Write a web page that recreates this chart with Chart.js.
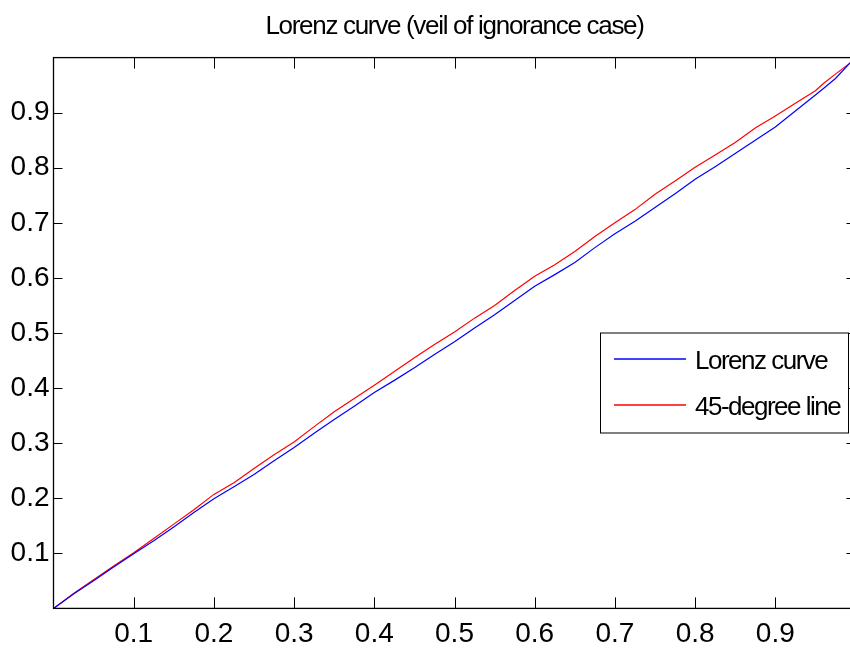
<!DOCTYPE html>
<html><head><meta charset="utf-8">
<script src="https://cdn.jsdelivr.net/npm/chart.js@4/dist/chart.umd.min.js"></script>
<style>
html,body{margin:0;padding:0;background:#fff;overflow:hidden}
#wrap{width:850px;height:654px;overflow:hidden;position:relative;background:#fff}
canvas{display:block}
</style>
</head><body>
<div id="wrap"><canvas id="c" width="860" height="654"></canvas></div>
<script>
const chartTitle = 'Lorenz curve (veil of ignorance case)';
const seriesLabels = ['Lorenz curve', '45-degree line'];
const populationShare = [0, 0.025, 0.05, 0.075, 0.1, 0.125, 0.15, 0.175, 0.2, 0.225, 0.25, 0.275, 0.3, 0.325, 0.35, 0.375, 0.4, 0.425, 0.45, 0.475, 0.5, 0.525, 0.55, 0.575, 0.6, 0.625, 0.65, 0.675, 0.7, 0.725, 0.75, 0.775, 0.8, 0.825, 0.85, 0.875, 0.9, 0.925, 0.95, 0.96, 0.975, 0.993, 1];
const lorenzValues = [0, 0.026, 0.05, 0.075, 0.099, 0.123, 0.148, 0.174, 0.199, 0.221, 0.243, 0.268, 0.292, 0.318, 0.343, 0.367, 0.392, 0.414, 0.437, 0.461, 0.484, 0.509, 0.533, 0.559, 0.585, 0.606, 0.628, 0.655, 0.68, 0.703, 0.728, 0.753, 0.779, 0.802, 0.826, 0.85, 0.874, 0.903, 0.932, 0.944, 0.962, 0.99, 1];
const equalityValues = [0, 0.027, 0.052, 0.077, 0.101, 0.127, 0.153, 0.179, 0.207, 0.228, 0.254, 0.279, 0.302, 0.33, 0.357, 0.381, 0.405, 0.43, 0.455, 0.479, 0.502, 0.527, 0.55, 0.577, 0.603, 0.624, 0.648, 0.675, 0.7, 0.724, 0.752, 0.776, 0.801, 0.823, 0.846, 0.872, 0.894, 0.917, 0.94, 0.953, 0.97, 0.99, 1];
const xTickValues = [0.1, 0.2, 0.3, 0.4, 0.5, 0.6, 0.7, 0.8, 0.9];
const xTickLabels = ['0.1', '0.2', '0.3', '0.4', '0.5', '0.6', '0.7', '0.8', '0.9'];
const yTickValues = [0.1, 0.2, 0.3, 0.4, 0.5, 0.6, 0.7, 0.8, 0.9];
const yTickLabels = ['0.1', '0.2', '0.3', '0.4', '0.5', '0.6', '0.7', '0.8', '0.9'];

const FONT = "'Liberation Sans', Arial, sans-serif";
const seriesColors = ['#0000ff', '#ff0000'];

function wrapDraw(chart, obj, spacing) {
  if (!obj || obj.__wrapped) return;
  const orig = obj.draw.bind(obj);
  obj.draw = function (...args) {
    const prev = chart.ctx.letterSpacing;
    chart.ctx.letterSpacing = spacing;
    orig(...args);
    chart.ctx.letterSpacing = prev || '0px';
  };
  obj.__wrapped = true;
}

const spacingPlugin = {
  id: 'tightText',
  afterLayout(chart) {
    wrapDraw(chart, chart.titleBlock, '-1.3px');
    wrapDraw(chart, chart.scales.x, '-1px');
    wrapDraw(chart, chart.scales.y, '-1px');
  }
};

const boxPlugin = {
  id: 'matlabBox',
  afterDraw(chart) {
    const {ctx, chartArea: a, scales} = chart;
    ctx.save();
    ctx.strokeStyle = '#000';
    ctx.lineWidth = 1.3;
    ctx.strokeRect(a.left, a.top, a.right - a.left, a.bottom - a.top);
    ctx.lineWidth = 1;
    ctx.beginPath();
    scales.x.ticks.forEach(t => {
      const px = Math.round(scales.x.getPixelForValue(t.value)) + 0.5;
      ctx.moveTo(px, a.bottom); ctx.lineTo(px, a.bottom - 11);
      ctx.moveTo(px, a.top); ctx.lineTo(px, a.top + 11);
    });
    scales.y.ticks.forEach(t => {
      const py = Math.round(scales.y.getPixelForValue(t.value)) + 0.5;
      ctx.moveTo(a.left, py); ctx.lineTo(a.left + 9, py);
      ctx.moveTo(a.right, py); ctx.lineTo(a.right - 9, py);
    });
    ctx.stroke();
    // legend
    const lx = 600.5, ly = 333, lw = 248, lh = 100;
    ctx.fillStyle = '#fff';
    ctx.fillRect(lx, ly, lw, lh);
    ctx.strokeStyle = '#000';
    ctx.lineWidth = 1;
    ctx.strokeRect(lx, ly, lw, lh);
    ctx.font = '26px ' + FONT;
    ctx.letterSpacing = '-1.5px';
    ctx.textBaseline = 'middle';
    ctx.textAlign = 'left';
    chart.data.datasets.forEach((ds, i) => {
      const y = ly + 26 + i * 46;
      ctx.beginPath();
      ctx.strokeStyle = seriesColors[i];
      ctx.lineWidth = 1.5;
      ctx.moveTo(614, y); ctx.lineTo(686, y);
      ctx.stroke();
      ctx.fillStyle = '#000';
      ctx.fillText(ds.label, 695, y + 2.5);
    });
    ctx.restore();
  }
};

const toPoints = vals => populationShare.map((x, i) => ({x, y: vals[i]}));

new Chart(document.getElementById('c'), {
  type: 'line',
  data: {
    datasets: [
      {label: seriesLabels[0], data: toPoints(lorenzValues), borderColor: seriesColors[0], borderWidth: 1.2, pointRadius: 0, tension: 0, fill: false},
      {label: seriesLabels[1], data: toPoints(equalityValues), borderColor: seriesColors[1], borderWidth: 1.2, pointRadius: 0, tension: 0, fill: false}
    ]
  },
  options: {
    responsive: false,
    animation: false,
    devicePixelRatio: 1,
    layout: {padding: {left: 0, right: 4.5, top: 0, bottom: 0}},
    plugins: {
      legend: {display: false},
      tooltip: {enabled: false},
      title: {
        display: true, text: chartTitle, fullSize: false, color: '#000',
        font: {family: FONT, size: 26, weight: 'normal', lineHeight: 1.2},
        padding: {top: 11.4, bottom: 15}
      }
    },
    scales: {
      x: {
        type: 'linear', min: 0, max: 1,
        afterBuildTicks: s => { s.ticks = xTickValues.map(v => ({value: v})); },
        afterFit: s => { s.height = 45.6; },
        grid: {display: false, drawTicks: false},
        border: {display: false},
        ticks: {color: '#000', font: {family: FONT, size: 28, lineHeight: 1.2}, padding: 9, maxRotation: 0, autoSkip: false,
          callback: (v, i) => xTickLabels[i]}
      },
      y: {
        type: 'linear', min: 0, max: 1,
        afterBuildTicks: s => { s.ticks = yTickValues.map(v => ({value: v})); },
        afterFit: s => { s.width = 53.5; },
        grid: {display: false, drawTicks: false},
        border: {display: false},
        ticks: {color: '#000', font: {family: FONT, size: 28, lineHeight: 1.2}, padding: 4, autoSkip: false,
          callback: (v, i) => yTickLabels[i]}
      }
    }
  },
  plugins: [spacingPlugin, boxPlugin]
});
</script>
</body></html>
